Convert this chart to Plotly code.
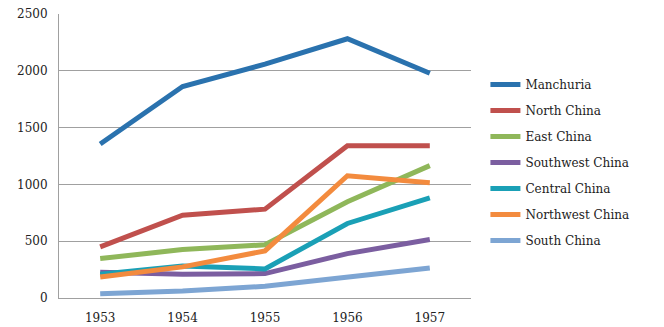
import plotly.graph_objects as go

years = ["1953", "1954", "1955", "1956", "1957"]
manchuria = [1356, 1862, 2059, 2282, 1979]
north_china = [450, 729, 782, 1341, 1341]
east_china = [347, 426, 468, 847, 1165]
southwest_china = [226, 209, 215, 391, 515]
central_china = [209, 282, 256, 656, 882]
northwest_china = [185, 274, 415, 1076, 1015]
south_china = [38, 62, 103, 185, 265]

series = [
    ("Manchuria", manchuria, "#2A72AE"),
    ("North China", north_china, "#C0504D"),
    ("East China", east_china, "#8FB75A"),
    ("Southwest China", southwest_china, "#7B5EA0"),
    ("Central China", central_china, "#1AA0B6"),
    ("Northwest China", northwest_china, "#F38B3E"),
    ("South China", south_china, "#7DA5D3"),
]

fig = go.Figure()
for i, (name, vals, color) in enumerate(series):
    fig.add_trace(go.Scatter(
        x=years, y=vals, name=name, mode="lines",
        line=dict(color=color, width=5), legendgroup=f"g{i}",
    ))

font = "DejaVu Serif"
fig.update_layout(
    width=664, height=327,
    margin=dict(l=59, r=193, t=14, b=29),
    paper_bgcolor="white", plot_bgcolor="white",
    font=dict(family=font, size=12, color="#222222"),
    showlegend=True,
    legend=dict(x=1.035, y=0.803, xanchor="left", yanchor="top",
                font=dict(family=font, size=12, color="#222222"),
                tracegroupgap=7, itemwidth=30, bgcolor="rgba(0,0,0,0)"),
    xaxis=dict(type="category", range=[-0.5, 4.5], showgrid=False, showline=True,
               linecolor="#A0A0A0", linewidth=1, ticks="", automargin=False,
               tickfont=dict(family=font, size=12), ticklabelstandoff=9),
    yaxis=dict(range=[0, 2500], dtick=500, showgrid=True, automargin=False,
               gridcolor="#A0A0A0", gridwidth=1, showline=True,
               linecolor="#A0A0A0", linewidth=1, ticks="", zeroline=False,
               tickfont=dict(family=font, size=12), ticklabelstandoff=8),
)
fig.write_html("out.html")
